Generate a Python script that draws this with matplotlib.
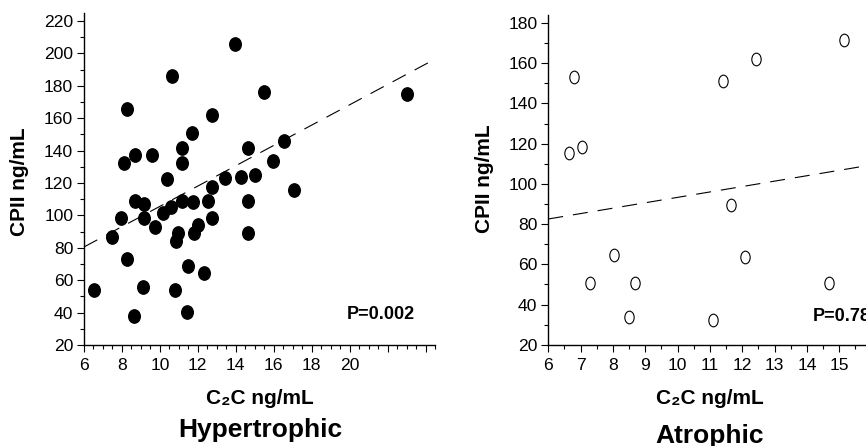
import numpy as np
import matplotlib
matplotlib.use("Agg")
import matplotlib.pyplot as plt
from matplotlib.path import Path
from matplotlib.ticker import MultipleLocator

plt.rcParams['font.family'] = ['Liberation Sans', 'DejaVu Sans']
plt.rcParams['lines.scale_dashes'] = False

# Hypertrophic group (filled markers)
hyp_c2c = [13.98, 10.63, 15.47, 23.05, 8.26, 12.77, 11.68, 16.53, 11.18, 14.63,
           8.09, 8.67, 9.60, 11.18, 15.96, 10.40, 13.42, 14.28, 15.02, 12.77,
           17.05, 8.67, 9.18, 10.56, 11.18, 11.75, 12.53, 14.63, 7.96, 9.16,
           10.14, 12.77, 9.74, 7.49, 10.93, 10.84, 12.00, 11.79, 14.65, 8.28,
           11.49, 12.32, 6.54, 9.10, 10.77, 8.65, 11.44]
hyp_cpii = [206, 186, 176, 175, 166, 162, 151, 146, 141.5, 141.5,
            132.6, 137.4, 137.2, 132.6, 133.3, 122.6, 123.2, 123.8, 125.2, 117.4,
            115.6, 109.2, 107.2, 105.5, 108.6, 108.2, 108.6, 108.6, 98.1, 98.7,
            101.4, 98.5, 92.6, 86.8, 89.3, 84.3, 94.0, 89.3, 89.3, 72.8,
            68.5, 64.5, 54.2, 56.1, 54.2, 38.1, 40.6]
hyp_fit = (42.9, 6.27)   # intercept, slope
hyp_p = "P=0.002"
hyp_xlabels = ['6', '8', '10', '12', '14', '16', '18', '20', '', '']

# Atrophic group (open markers)
atr_c2c = [6.79, 6.65, 7.04, 11.41, 12.44, 15.14, 11.64, 8.02, 7.28, 8.69,
           8.50, 11.11, 12.09, 14.68]
atr_cpii = [153.1, 115.2, 118.5, 151.1, 162.1, 171.4, 89.3, 64.6, 50.6, 50.6,
            33.9, 32.2, 63.8, 50.6]
atr_fit = (66.4, 2.69)
atr_p = "P=0.78"
atr_xlabels = ['6', '7', '8', '9', '10', '11', '12', '13', '14', '15', '']


def ellipse_marker(ratio):
    circ = Path.unit_circle()
    verts = circ.vertices.copy()
    verts[:, 0] *= ratio
    return Path(verts, circ.codes)


def style_axes(ax, xlim, ylim, xmajor, xminor, xlabels):
    ax.set_xlim(*xlim)
    ax.set_ylim(*ylim)
    for s in ['top', 'right']:
        ax.spines[s].set_visible(False)
    for s in ['left', 'bottom']:
        ax.spines[s].set_linewidth(1.0)
    ax.xaxis.set_major_locator(MultipleLocator(xmajor))
    ax.xaxis.set_minor_locator(MultipleLocator(xminor))
    ax.yaxis.set_major_locator(MultipleLocator(20))
    ax.yaxis.set_minor_locator(MultipleLocator(10))
    ax.tick_params(which='major', direction='out', length=4.8, width=0.8,
                   labelsize=12.6, pad=3)
    ax.tick_params(axis='x', which='major', pad=4.5)
    ax.tick_params(which='minor', direction='out', length=2.8, width=0.8)
    ticks = np.arange(xlim[0], xlim[1] + 0.01, xmajor)[:len(xlabels)]
    ax.set_xticks(ticks)
    ax.set_xticklabels(xlabels)


fig = plt.figure(figsize=(8.66, 4.46), dpi=100)

# left panel
ax1 = fig.add_axes([0.0970, 0.2265, 0.4053, 0.7444])
style_axes(ax1, (6, 24.5), (20, 225), 2, 0.5, hyp_xlabels)
ax1.plot(hyp_c2c, hyp_cpii, linestyle='none', marker=ellipse_marker(0.87),
         markersize=9.6, color='black')
xs = np.array(ax1.get_xlim())
ax1.plot(xs, hyp_fit[0] + hyp_fit[1] * xs, color='black', lw=0.8,
         dashes=(10.8, 7.2), clip_on=False)
ax1.text(23.45, 36, hyp_p, ha='right', va='baseline', fontsize=13,
         fontweight='bold')

# right panel
ax2 = fig.add_axes([0.6331, 0.2271, 0.3733, 0.7392])
style_axes(ax2, (6, 16), (20, 184), 1, 0.5, atr_xlabels)
ax2.plot(atr_c2c, atr_cpii, linestyle='none', marker=ellipse_marker(0.74),
         markersize=9.1, markerfacecolor='white', markeredgecolor='black',
         markeredgewidth=0.8)
xs = np.array(ax2.get_xlim())
ax2.plot(xs, atr_fit[0] + atr_fit[1] * xs, color='black', lw=0.8,
         dashes=(10.8, 7.2))
ax2.text(14.18, 31.8, atr_p, ha='left', va='baseline', fontsize=13,
         fontweight='bold')

# axis labels and group names
for cx, cy in [(19.5 / 866, 0.592), (484 / 866, 0.599)]:
    fig.text(cx, cy, 'CPII ng/mL', rotation=90, ha='center', va='center',
             fontsize=15, fontweight='bold')
for cx in [259.5 / 866, 710 / 866]:
    fig.text(cx, 0.0942, 'C\u2082C ng/mL', ha='center', va='baseline',
             fontsize=15, fontweight='bold')
fig.text(260 / 866, 0.0195, 'Hypertrophic', ha='center', va='baseline',
         fontsize=19, fontweight='bold')
fig.text(710 / 866, 0.0067, 'Atrophic', ha='center', va='baseline',
         fontsize=19, fontweight='bold')

fig.savefig('out.png', dpi=100)
